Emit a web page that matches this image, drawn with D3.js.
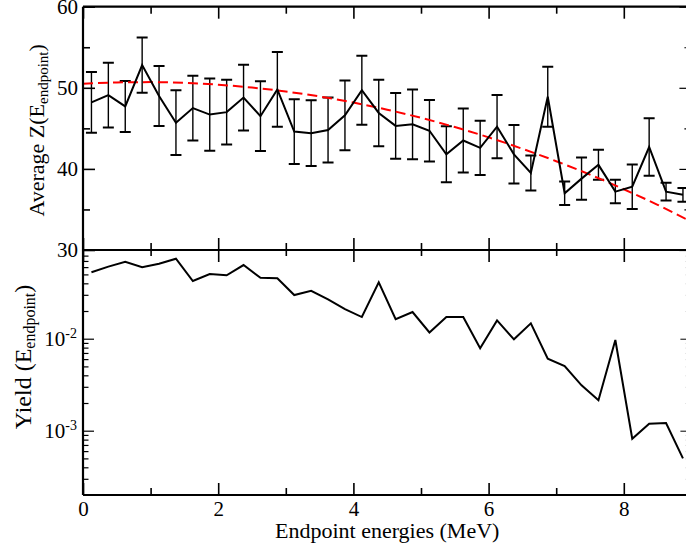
<!DOCTYPE html>
<html>
<head>
<meta charset="utf-8">
<script src="https://cdn.jsdelivr.net/npm/d3@7/dist/d3.min.js"></script>
<style>
  html, body { margin: 0; padding: 0; background: #fff; }
  svg { display: block; font-family: "Liberation Serif", "Times New Roman", serif; }
</style>
</head>
<body>
<svg id="chart" width="686" height="548"></svg>
<script>
// ---------------- data ----------------
const energies = [0.125, 0.375, 0.625, 0.875, 1.125, 1.375, 1.625, 1.875, 2.125, 2.375,
  2.625, 2.875, 3.125, 3.375, 3.625, 3.875, 4.125, 4.375, 4.625, 4.875,
  5.125, 5.375, 5.625, 5.875, 6.125, 6.375, 6.625, 6.875, 7.125, 7.375,
  7.625, 7.875, 8.125, 8.375, 8.625, 8.875];
const avgZ = [48.2, 49.1, 47.7, 52.8, 49.0, 45.7, 47.5, 46.7, 47.0, 48.8,
  46.5, 49.8, 44.6, 44.4, 44.8, 46.6, 49.7, 46.9, 45.3, 45.5,
  44.7, 41.8, 43.5, 42.6, 45.2, 41.8, 39.5, 48.9, 37.0, 38.8,
  40.5, 37.2, 37.8, 42.7, 37.2, 36.8];
const zErr = [3.75, 4.0, 3.15, 3.4, 3.7, 4.0, 4.0, 4.45, 4.0, 4.05,
  4.3, 4.6, 4.0, 4.05, 4.0, 4.3, 4.25, 4.1, 4.05, 4.3,
  3.8, 3.45, 3.95, 3.35, 3.9, 3.6, 2.15, 3.7, 1.45, 2.6,
  1.85, 1.45, 2.75, 3.55, 1.1, 0.85];
const fitE = [0, 0.5, 1, 1.5, 2, 2.5, 3, 3.5, 4, 4.5, 5, 5.5, 6, 6.5, 7, 7.5, 8, 8.5, 9];
const fitZ = [50.49, 50.66, 50.70, 50.61, 50.38, 50.03, 49.54, 48.93, 48.18, 47.30,
  46.30, 45.16, 43.89, 42.48, 40.95, 39.29, 37.49, 35.57, 33.48];
const yieldVals = [0.0527, 0.0607, 0.0687, 0.0597, 0.0653, 0.0741, 0.0424, 0.0505, 0.0489, 0.0632,
  0.0460, 0.0453, 0.0298, 0.0332, 0.0268, 0.0210, 0.0172, 0.0410, 0.0163, 0.0195,
  0.0117, 0.0172, 0.0172, 0.00786, 0.0158, 0.00985, 0.0147, 0.00607, 0.00505, 0.00311,
  0.00214, 0.00968, 0.000818, 0.00119, 0.00121, 0.0005];
const xMajorTicks = [0, 2, 4, 6, 8];
const xMinorTicks = [1, 3, 5, 7, 9];
const zMajorTicks = [30, 40, 50, 60];
const zMinorTicks = [35, 45, 55];
const yieldMajorTicks = [1e-3, 1e-2];
const yieldMinorTicks = [3e-4, 4e-4, 5e-4, 6e-4, 7e-4, 8e-4, 9e-4, 2e-3, 3e-3, 4e-3, 5e-3, 6e-3, 7e-3, 8e-3, 9e-3,
  2e-2, 3e-2, 4e-2, 5e-2, 6e-2, 7e-2, 8e-2];

// ---------------- layout ----------------
const L = 83, R = 691.4, T = 6.7, MID = 250, B = 495;
const svg = d3.select("#chart");

const x = d3.scaleLinear().domain([0, 9]).range([L, R]);
const yTop = d3.scaleLinear().domain([30, 60]).range([MID, T]);
const yBot = d3.scaleLog().domain([2e-4, 0.0921]).range([B, MID]);

const TICK_FONT = 21;

function styleAxis(g, sw) {
  g.select(".domain").remove();
  g.selectAll(".tick line").attr("stroke", "#000").attr("stroke-width", sw);
  g.selectAll(".tick text").attr("fill", "#000").style("font-size", TICK_FONT + "px")
    .style("font-family", '"Liberation Serif", "Times New Roman", serif');
}

// ----- top panel axes -----
svg.append("g").attr("transform", `translate(${L},0)`)
  .call(d3.axisLeft(yTop).tickValues(zMajorTicks).tickSizeInner(-12).tickSizeOuter(0).tickPadding(5).tickFormat(d3.format("d")))
  .call(g => styleAxis(g, 1.6));
svg.append("g").attr("transform", `translate(${L},0)`)
  .call(d3.axisLeft(yTop).tickValues(zMinorTicks).tickSizeInner(-7).tickSizeOuter(0).tickFormat(""))
  .call(g => styleAxis(g, 1.6));
svg.append("g").attr("transform", `translate(${R},0)`)
  .call(d3.axisRight(yTop).tickValues(zMajorTicks).tickSizeInner(-12).tickSizeOuter(0).tickFormat(""))
  .call(g => styleAxis(g, 1.2));
svg.append("g").attr("transform", `translate(${R},0)`)
  .call(d3.axisRight(yTop).tickValues(zMinorTicks).tickSizeInner(-7).tickSizeOuter(0).tickFormat(""))
  .call(g => styleAxis(g, 1.2));
svg.append("g").attr("transform", `translate(0,${T})`)
  .call(d3.axisTop(x).tickValues(xMajorTicks).tickSizeInner(-12).tickSizeOuter(0).tickFormat(""))
  .call(g => styleAxis(g, 1.6));
svg.append("g").attr("transform", `translate(0,${T})`)
  .call(d3.axisTop(x).tickValues(xMinorTicks).tickSizeInner(-7).tickSizeOuter(0).tickFormat(""))
  .call(g => styleAxis(g, 1.6));
svg.append("g").attr("transform", `translate(0,${MID})`)
  .call(d3.axisBottom(x).tickValues(xMajorTicks).tickSizeInner(-12).tickSizeOuter(0).tickFormat(""))
  .call(g => styleAxis(g, 1.6));
svg.append("g").attr("transform", `translate(0,${MID})`)
  .call(d3.axisBottom(x).tickValues(xMinorTicks).tickSizeInner(-7).tickSizeOuter(0).tickFormat(""))
  .call(g => styleAxis(g, 1.6));

// ----- bottom panel axes -----
svg.append("g").attr("transform", `translate(0,${MID})`)
  .call(d3.axisTop(x).tickValues(xMajorTicks).tickSizeInner(-12).tickSizeOuter(0).tickFormat(""))
  .call(g => styleAxis(g, 1.6));
svg.append("g").attr("transform", `translate(0,${MID})`)
  .call(d3.axisTop(x).tickValues(xMinorTicks).tickSizeInner(-6).tickSizeOuter(0).tickFormat(""))
  .call(g => styleAxis(g, 1.6));
svg.append("g").attr("transform", `translate(0,${B})`)
  .call(d3.axisBottom(x).tickValues(xMajorTicks).tickSizeInner(-12).tickSizeOuter(0).tickPadding(6).tickFormat(d3.format("d")))
  .call(g => styleAxis(g, 1.6));
svg.append("g").attr("transform", `translate(0,${B})`)
  .call(d3.axisBottom(x).tickValues(xMinorTicks).tickSizeInner(-7).tickSizeOuter(0).tickFormat(""))
  .call(g => styleAxis(g, 1.6));
const yLeftMajor = svg.append("g").attr("transform", `translate(${L},0)`)
  .call(d3.axisLeft(yBot).tickValues(yieldMajorTicks).tickSizeInner(-11).tickSizeOuter(0).tickPadding(6).tickFormat(() => ""))
  .call(g => styleAxis(g, 1.2));
yLeftMajor.selectAll(".tick text").each(function(d) {
  const t = d3.select(this);
  const e = Math.round(Math.log10(d));
  t.text(null);
  t.append("tspan").text("10");
  t.append("tspan").attr("dy", "-0.55em").style("font-size", "14px").text(String(e));
});
svg.append("g").attr("transform", `translate(${L},0)`)
  .call(d3.axisLeft(yBot).tickValues(yieldMinorTicks).tickSizeInner(-5.5).tickSizeOuter(0).tickFormat(""))
  .call(g => styleAxis(g, 1.2));
svg.append("g").attr("transform", `translate(${R},0)`)
  .call(d3.axisRight(yBot).tickValues(yieldMajorTicks).tickSizeInner(-11).tickSizeOuter(0).tickFormat(""))
  .call(g => styleAxis(g, 1.0));
svg.append("g").attr("transform", `translate(${R},0)`)
  .call(d3.axisRight(yBot).tickValues(yieldMinorTicks).tickSizeInner(-5.5).tickSizeOuter(0).tickFormat(""))
  .call(g => styleAxis(g, 1.0));

// ----- clip -----
const defs = svg.append("defs");
defs.append("clipPath").attr("id", "clipTop")
  .append("rect").attr("x", L).attr("y", T).attr("width", R - L).attr("height", MID - T);
defs.append("clipPath").attr("id", "clipBot")
  .append("rect").attr("x", L).attr("y", MID).attr("width", R - L).attr("height", B - MID);

// ----- top panel marks -----
const topG = svg.append("g").attr("clip-path", "url(#clipTop)");
const zData = energies.map((e, i) => ({ e, z: avgZ[i], err: zErr[i] }));

const eb = topG.append("g").attr("stroke", "#000").attr("stroke-width", 1.4).attr("fill", "none");
zData.forEach(d => {
  const xc = x(d.e), y1 = yTop(d.z + d.err), y2 = yTop(d.z - d.err);
  eb.append("line").attr("x1", xc).attr("x2", xc).attr("y1", y1).attr("y2", y2);
  eb.append("line").attr("x1", xc - 5.5).attr("x2", xc + 5.5).attr("y1", y1).attr("y2", y1).attr("stroke-width", 2);
  eb.append("line").attr("x1", xc - 5.5).attr("x2", xc + 5.5).attr("y1", y2).attr("y2", y2).attr("stroke-width", 2);
});

topG.append("path")
  .datum(fitE.map((e, i) => [e, fitZ[i]]))
  .attr("fill", "none").attr("stroke", "#ff0000").attr("stroke-width", 2)
  .attr("stroke-dasharray", "10,5")
  .attr("d", d3.line().x(d => x(d[0])).y(d => yTop(d[1])).curve(d3.curveMonotoneX));

topG.append("path")
  .datum(zData)
  .attr("fill", "none").attr("stroke", "#000").attr("stroke-width", 2).attr("stroke-linejoin", "miter")
  .attr("d", d3.line().x(d => x(d.e)).y(d => yTop(d.z)));

// ----- bottom panel marks -----
const botG = svg.append("g").attr("clip-path", "url(#clipBot)");
botG.append("path")
  .datum(energies.map((e, i) => [e, yieldVals[i]]))
  .attr("fill", "none").attr("stroke", "#000").attr("stroke-width", 2)
  .attr("d", d3.line().x(d => x(d[0])).y(d => yBot(d[1])));

// ----- frames -----
const frame = svg.append("g").attr("stroke", "#000").attr("stroke-width", 2.2).attr("fill", "none");
frame.append("line").attr("x1", L).attr("x2", L).attr("y1", T).attr("y2", B);
frame.append("line").attr("x1", R).attr("x2", R).attr("y1", T).attr("y2", B);
frame.append("line").attr("x1", L).attr("x2", R).attr("y1", T).attr("y2", T);
frame.append("line").attr("x1", L).attr("x2", R).attr("y1", MID).attr("y2", MID);
frame.append("line").attr("x1", L).attr("x2", R).attr("y1", B).attr("y2", B);

// ----- titles -----
const t1 = svg.append("text")
  .attr("transform", `translate(44,${(T + MID) / 2 + 2}) rotate(-90)`)
  .attr("text-anchor", "middle").style("font-size", "22px").attr("fill", "#000");
t1.append("tspan").text("Average Z(E");
t1.append("tspan").attr("dy", 4).style("font-size", "15px").text("endpoint");
t1.append("tspan").attr("dy", -4).text(")");

const t2 = svg.append("text")
  .attr("transform", `translate(31,${357}) rotate(-90)`)
  .attr("text-anchor", "middle").style("font-size", "24px").attr("fill", "#000");
t2.append("tspan").text("Yield (E");
t2.append("tspan").attr("dy", 4).style("font-size", "16px").text("endpoint");
t2.append("tspan").attr("dy", -4).text(")");

svg.append("text")
  .attr("x", (L + R) / 2).attr("y", 538)
  .attr("text-anchor", "middle").style("font-size", "22px").attr("fill", "#000")
  .text("Endpoint energies (MeV)");
</script>
</body>
</html>
